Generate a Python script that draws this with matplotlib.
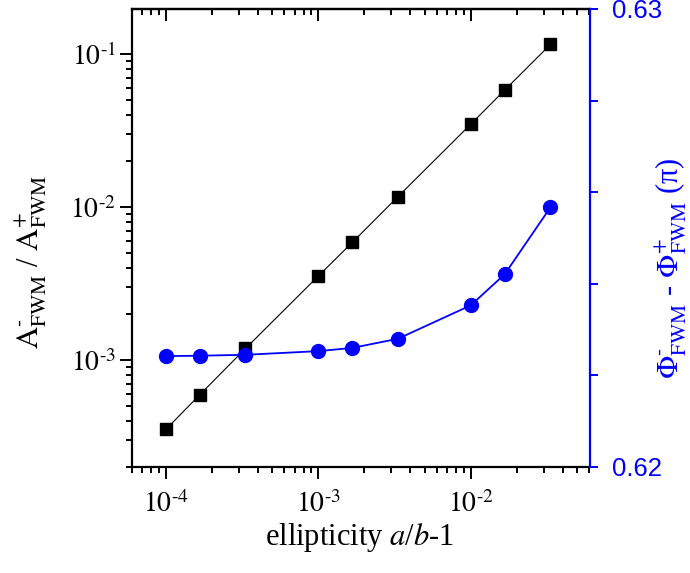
import matplotlib

matplotlib.use("Agg")
import matplotlib.pyplot as plt  # noqa: E402
import numpy as np  # noqa: E402
from matplotlib.ticker import LogLocator, NullFormatter, FixedLocator  # noqa: E402

plt.rcParams["font.family"] = ["Liberation Serif", "DejaVu Serif"]
plt.rcParams["mathtext.fontset"] = "stix"

# ellipticity a/b-1
ellipticity = [1.0e-4, 1.67e-4, 3.33e-4, 1.0e-3, 1.67e-3, 3.33e-3, 1.0e-2, 1.67e-2, 3.33e-2]
# A-_FWM / A+_FWM (left axis, log)
amp_ratio = [3.52e-4, 5.93e-4, 1.19e-3, 3.54e-3, 5.87e-3, 1.17e-2, 3.48e-2, 5.82e-2, 0.1156]
# Phi-_FWM - Phi+_FWM in units of pi (right axis)
phase_diff = [0.62242, 0.62243, 0.62245, 0.62253, 0.62260, 0.62280, 0.62353, 0.62421, 0.62567]

x_ticks = [1e-4, 1e-3, 1e-2]
x_ticklabels = [r"$10^{\text{-}4}$", r"$10^{\text{-}3}$", r"$10^{\text{-}2}$"]
y_ticks = [1e-3, 1e-2, 1e-1]
y_ticklabels = [r"$10^{\text{-}3}$", r"$10^{\text{-}2}$", r"$10^{\text{-}1}$"]
phase_ticks = [0.620, 0.622, 0.624, 0.626, 0.628, 0.630]
phase_ticklabels = ["0.62", "", "", "", "", "0.63"]

BLUE = "#0000ff"

fig = plt.figure(figsize=(6.9, 5.73), dpi=100)
ax = fig.add_axes([132 / 690, 1 - 467 / 573, 458 / 690, 458 / 573])

ax.plot(ellipticity, amp_ratio, color="black", lw=0.8, marker="s", ms=9,
        mfc="black", mec="black", zorder=3)
ax.set_xscale("log")
ax.set_yscale("log")
ax.set_xlim(6.0e-5, 0.0605)
ax.set_ylim(2.0e-4, 0.197)

for s in ax.spines.values():
    s.set_linewidth(1.6)
ax.spines["right"].set_visible(False)

ax.xaxis.set_major_locator(FixedLocator(x_ticks))
ax.xaxis.set_minor_locator(LogLocator(base=10, subs=np.arange(2, 10)))
ax.xaxis.set_minor_formatter(NullFormatter())
ax.set_xticklabels(x_ticklabels)
ax.yaxis.set_major_locator(FixedLocator(y_ticks))
ax.yaxis.set_minor_locator(LogLocator(base=10, subs=np.arange(2, 10)))
ax.yaxis.set_minor_formatter(NullFormatter())
ax.set_yticklabels(y_ticklabels)

ax.tick_params(which="major", direction="out", length=8.5, width=1.4, labelsize=20)
ax.tick_params(which="minor", direction="out", length=4.5, width=1.4)
ax.tick_params(axis="y", which="both", right=False, pad=3)
ax.tick_params(axis="x", which="both", top=False, pad=9)

# top axis: inward ticks, no labels
top = ax.secondary_xaxis("top")
top.set_xscale("log")
top.xaxis.set_major_locator(FixedLocator(x_ticks))
top.xaxis.set_minor_locator(LogLocator(base=10, subs=np.arange(2, 10)))
top.tick_params(which="major", direction="in", length=8.5, width=1.4, labeltop=False)
top.tick_params(which="minor", direction="in", length=4.5, width=1.4)
top.spines["top"].set_linewidth(1.6)

# right axis: phase difference
ax2 = ax.twinx()
ax2.plot(ellipticity, phase_diff, color=BLUE, lw=1.3, marker="o", ms=10,
         mfc=BLUE, mec=BLUE, zorder=3)
ax2.set_ylim(0.62, 0.63)
ax2.set_yticks(phase_ticks)
ax2.set_yticklabels(phase_ticklabels, fontfamily="Liberation Sans", fontsize=18.5)
ax2.tick_params(axis="y", colors=BLUE, direction="out", length=6, width=1.4, pad=10)
for name, s in ax2.spines.items():
    s.set_visible(name == "right")
ax2.spines["right"].set_color(BLUE)
ax2.spines["right"].set_linewidth(1.6)

fig.text(31 / 690, 1 - 262 / 573,
         r"$\mathrm{A}^{\text{-}}_{\mathrm{FWM}}$ / $\mathrm{A}^{+}_{\mathrm{FWM}}$",
         rotation=90, ha="center", va="center", fontsize=22)
fig.text(671 / 690, 1 - 268 / 573,
         r"$\Phi^{\text{-}}_{\mathrm{FWM}}$ - $\Phi^{+}_{\mathrm{FWM}}$ (π)",
         rotation=90, ha="center", va="center", fontsize=22, color=BLUE)
fig.text(360 / 690, 1 - 538 / 573, r"ellipticity $a$/$b$-1",
         ha="center", va="center", fontsize=22)

fig.savefig("out.png", dpi=100, facecolor="white")
